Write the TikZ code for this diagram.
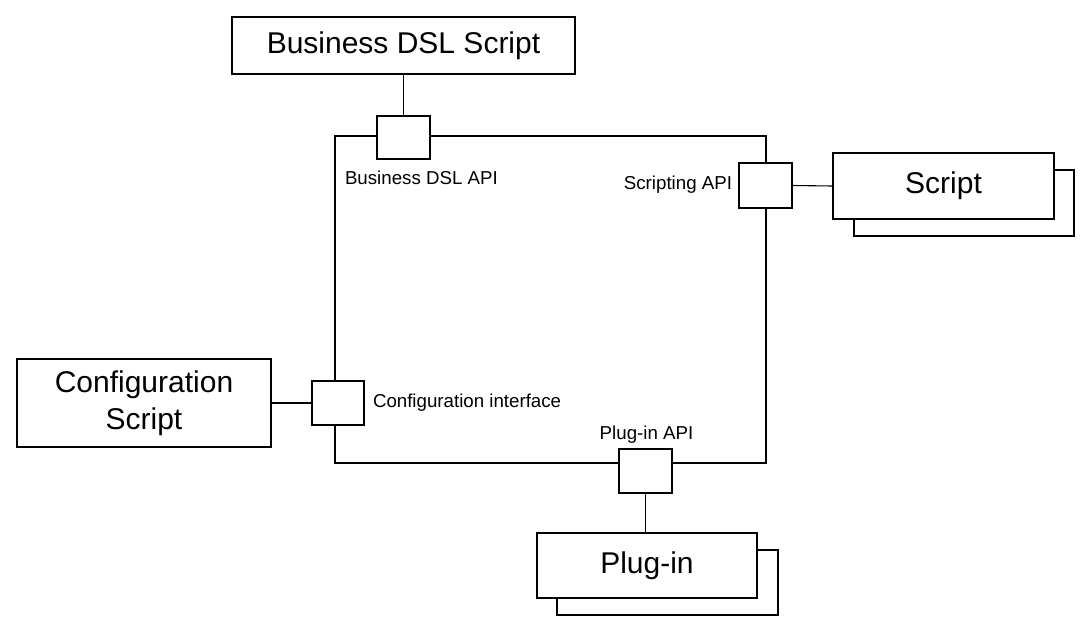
\documentclass[tikz,border=0pt]{standalone}
\usepackage{fontspec}
\setmainfont{Liberation Sans}
\begin{document}
\begin{tikzpicture}[x=1pt,y=-1pt,
  every node/.style={inner sep=0pt, outer sep=0pt},
  ln/.style={line width=1.1pt, black},
  bigbox/.style={draw, line width=1.1pt, fill=white, font=\fontsize{30}{37}\selectfont, align=center},
  portbox/.style={draw, line width=1.1pt, fill=white},
  lbl/.style={font=\fontsize{18.7}{22}\selectfont}
]
\useasboundingbox (0,0) rectangle (1092,633);
% main component
\node[draw, line width=1.1pt, minimum width=431pt, minimum height=327pt] (core) at (550.5,299.5) {};
% Business DSL
\node[bigbox, minimum width=343pt, minimum height=57pt] (bds) at (403.5,45.5) {Business DSL Script};
\node[portbox, minimum width=53pt, minimum height=43pt] (bdsapi) at (403.5,137.5) {};
\node[lbl, anchor=west] (bdsapil) at (345,178) {Business DSL API};
\draw[ln] (bds.south) -- (bdsapi.north);
% Scripting
\node[portbox, minimum width=53pt, minimum height=45pt] (scrapi) at (765.5,185.5) {};
\node[lbl, anchor=east] (scrapil) at (732,185) {Scripting API};
\node[draw, line width=1.1pt, minimum width=220pt, minimum height=66pt] (scrback) at (964,203) {};
\node[bigbox, minimum width=221pt, minimum height=66pt] (scr) at (943.5,186) {Script};
\draw[ln] (scrapi.east) -- (scr.west);
% Configuration
\node[bigbox, minimum width=254pt, minimum height=88pt] (cfg) at (144,403) {Configuration\\Script};
\node[portbox, minimum width=52pt, minimum height=44pt] (cfgapi) at (338,403) {};
\node[lbl, anchor=west] (cfgapil) at (373,403) {Configuration interface};
\draw[ln] (cfg.east) -- (cfgapi.west);
% Plug-in
\node[portbox, minimum width=53pt, minimum height=44pt] (plgapi) at (645.5,471) {};
\node[lbl] (plgapil) at (646.5,435) {Plug-in API};
\node[draw, line width=1.1pt, minimum width=221pt, minimum height=65pt] (plgback) at (667.5,582.5) {};
\node[bigbox, minimum width=220pt, minimum height=65pt] (plg) at (647,565.5) {Plug-in};
\draw[ln] (plgapi.south) -- (plg.north -| plgapi.south);
\end{tikzpicture}
\end{document}
